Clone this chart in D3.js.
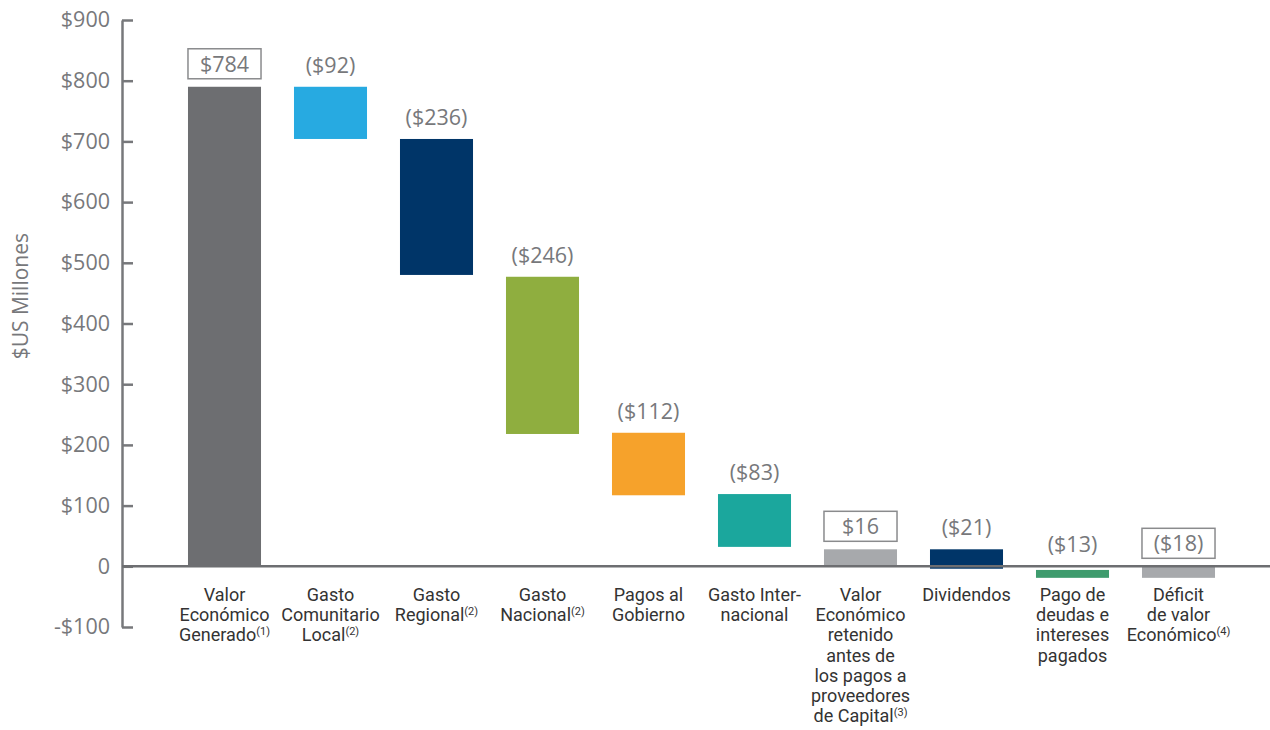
<!DOCTYPE html>
<html>
<head>
<meta charset="utf-8">
<script src="https://cdn.jsdelivr.net/npm/d3@7"></script>
<style>
	body { margin: 0; background: #fff; }
	svg { display: block; }
	.tick text, .y-title, .value-label { font-family: "Open Sans", sans-serif; fill: #77787b; }
	.cat-label { font-family: Roboto, sans-serif; fill: #333; }
</style>
</head>
<body>
<div id="chart"></div>
<script>
// categories, split into lines (superscript notes kept apart)
const categories = [
	['Valor', 'Económico', 'Generado'],
	['Gasto', 'Comunitario', 'Local'],
	['Gasto', 'Regional'],
	['Gasto', 'Nacional'],
	['Pagos al', 'Gobierno'],
	['Gasto Inter-', 'nacional'],
	['Valor', 'Económico', 'retenido', 'antes de', 'los pagos a', 'proveedores', 'de Capital'],
	['Dividendos'],
	['Pago de', 'deudas e', 'intereses', 'pagados'],
	['Déficit', 'de valor', 'Económico']
];
const notes = ['(1)', '(2)', '(2)', '(2)', '', '', '(3)', '', '', '(4)'];

// bar start / end as drawn ($US millones)
const barStart = [0, 790, 704, 477, 220, 119, 0, 28, -6, 0];
const barEnd = [790, 704, 480, 218, 117, 32, 28, -4, -19, -19];

const valueLabels = ['$784', '($92)', '($236)', '($246)', '($112)', '($83)', '$16', '($21)', '($13)', '($18)'];
const boxedLabels = [true, false, false, false, false, false, true, false, false, true];

const barColors = ['#6d6e71', '#27aae1', '#003568', '#8fae3f', '#f6a22b', '#1ba79d', '#a7a9ac', '#003568', '#3e9b6d', '#a7a9ac'];

const yTicks = [-100, 0, 100, 200, 300, 400, 500, 600, 700, 800, 900];
const yTickLabels = ['-$100', '0', '$100', '$200', '$300', '$400', '$500', '$600', '$700', '$800', '$900'];

// dimension stuff
const width = 1270;
const height = 730;
const axisX = 122;
const FONT_SIZE = 18;

const $svg = d3.select('#chart').append('svg')
	.attr('width', width)
	.attr('height', height);

// scales
const scaleY = d3.scaleLinear().domain([-100, 900]).range([627, 20]);
const scaleX = d3.scaleBand()
	.domain(d3.range(categories.length))
	.range([171.5, 1231.5])
	.paddingInner(0.311)
	.paddingOuter(0.1555);

// y axis, ticks pointing inward
const axisY = d3.axisLeft(scaleY)
	.tickValues(yTicks)
	.tickFormat((d, i) => yTickLabels[i])
	.tickSizeInner(-11)
	.tickSizeOuter(0)
	.tickPadding(12);

const $axis = $svg.append('g')
	.attr('transform', `translate(${axisX},0)`)
	.call(axisY);

$axis.select('.domain').attr('stroke', '#77787b').attr('stroke-width', 2.5);
$axis.selectAll('.tick line').attr('stroke', '#77787b').attr('stroke-width', 2.5);
$axis.selectAll('.tick text')
	.attr('font-size', 21.5)
	.attr('fill', '#77787b')
	.style('font-family', '"Open Sans", sans-serif');

$svg.append('text')
	.attr('class', 'y-title')
	.attr('transform', `translate(28, ${scaleY(445)}) rotate(-90)`)
	.attr('text-anchor', 'middle')
	.attr('font-size', 21)
	.text('$US Millones');

// bars
const bars = d3.range(categories.length);
$svg.append('g')
	.selectAll('rect')
	.data(bars)
	.join('rect')
	.attr('x', i => scaleX(i))
	.attr('width', scaleX.bandwidth())
	.attr('y', i => scaleY(Math.max(barStart[i], barEnd[i])))
	.attr('height', i => Math.abs(scaleY(barStart[i]) - scaleY(barEnd[i])))
	.attr('fill', i => barColors[i]);

// zero line
$svg.append('line')
	.attr('x1', axisX)
	.attr('x2', width)
	.attr('y1', scaleY(0))
	.attr('y2', scaleY(0))
	.attr('stroke', '#6d6e71')
	.attr('stroke-width', 2.5);

// value labels
const $labels = $svg.append('g').selectAll('g')
	.data(bars)
	.join('g')
	.attr('transform', i => {
		const top = scaleY(Math.max(barStart[i], barEnd[i], 0));
		const cy = boxedLabels[i] ? top - 23 : top - 22;
		return `translate(${scaleX(i) + scaleX.bandwidth() / 2}, ${cy})`;
	});

$labels.filter(i => boxedLabels[i])
	.append('rect')
	.attr('x', -scaleX.bandwidth() / 2)
	.attr('y', -15)
	.attr('width', scaleX.bandwidth())
	.attr('height', 30)
	.attr('fill', 'none')
	.attr('stroke', '#8a8b8d')
	.attr('stroke-width', 1.5);

$labels.append('text')
	.attr('class', 'value-label')
	.attr('text-anchor', 'middle')
	.attr('dy', '0.36em')
	.attr('font-size', 21.5)
	.text(i => valueLabels[i]);

// category labels
const $cats = $svg.append('g').selectAll('text')
	.data(bars)
	.join('text')
	.attr('class', 'cat-label')
	.attr('text-anchor', 'middle')
	.attr('font-size', FONT_SIZE);

$cats.each(function(i) {
	const $t = d3.select(this);
	const cx = scaleX(i) + scaleX.bandwidth() / 2;
	const lines = categories[i];
	lines.forEach((line, j) => {
		$t.append('tspan')
			.attr('x', cx)
			.attr('y', 601 + j * 20.2)
			.text(line);
		if (j === lines.length - 1 && notes[i]) {
			$t.append('tspan')
				.attr('font-size', 11)
				.attr('dy', -6)
				.text(notes[i]);
		}
	});
});
</script>
</body>
</html>
